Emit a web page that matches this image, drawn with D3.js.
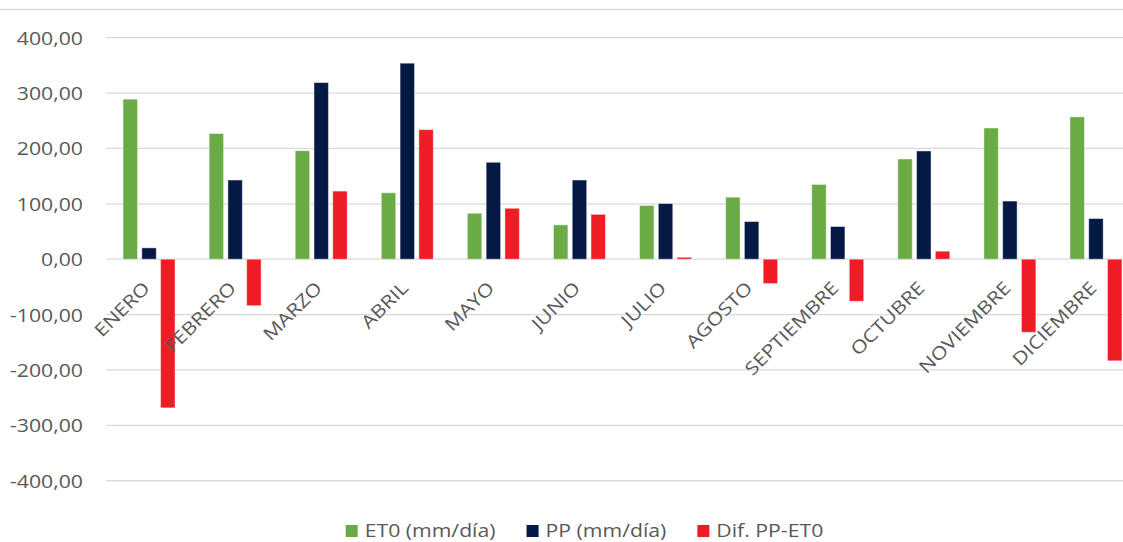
<!DOCTYPE html>
<html>
<head>
<meta charset="utf-8">
<script src="https://cdn.jsdelivr.net/npm/d3@7/dist/d3.min.js"></script>
<style>
  html, body { margin: 0; padding: 0; background: #fff; }
  svg { display: block; }
  text { font-family: "Open Sans", "Noto Sans", sans-serif; fill: #595959; }
</style>
</head>
<body>
<svg id="chart" width="1123" height="542"></svg>
<script>
// Monthly water balance: reference evapotranspiration vs. precipitation
const months = ["ENERO", "FEBRERO", "MARZO", "ABRIL", "MAYO", "JUNIO",
                "JULIO", "AGOSTO", "SEPTIEMBRE", "OCTUBRE", "NOVIEMBRE", "DICIEMBRE"];
const et0  = [289, 227, 196, 120, 83, 62, 97, 112, 135, 181, 237, 257];
const pp   = [20.5, 143, 319, 354, 175, 143, 100.5, 68, 59, 195.5, 105, 73.5];
const diff = [-268.5, -84, 123, 234, 92, 81, 3.5, -44, -76, 14.5, -132, -183.5];
const seriesNames = ["ET0 (mm/día)", "PP (mm/día)", "Dif. PP-ET0"];
const seriesColors = ["#6aab45", "#041a44", "#ee1c25"];
const yTicks = [-400, -300, -200, -100, 0, 100, 200, 300, 400];

const W = 1123, H = 542;
const FS = 18, SX = 1.18;   // font size and horizontal stretch of all labels
const svg = d3.select("#chart");

const plot = { left: 106, right: 1139, top: 37.7, bottom: 480.7 };

const x = d3.scaleBand().domain(months).range([plot.left, plot.right]).padding(0);
const groupW = 52;
const xs = d3.scaleBand().domain(seriesNames)
  .range([(x.bandwidth() - groupW) / 2, (x.bandwidth() + groupW) / 2])
  .paddingInner(0.23).paddingOuter(0);
const y = d3.scaleLinear().domain([-400, 400]).range([plot.bottom, plot.top]);

const fmt = v => d3.format(".2f")(v).replace(".", ",").replace("−", "-");

// outer frame line
svg.append("line")
  .attr("x1", 0).attr("x2", W).attr("y1", 9.5).attr("y2", 9.5)
  .attr("stroke", "#d9d9d9").attr("stroke-width", 1.5);

// horizontal gridlines
svg.append("g").selectAll("line").data(yTicks).join("line")
  .attr("x1", plot.left).attr("x2", W)
  .attr("y1", d => y(d)).attr("y2", d => y(d))
  .attr("stroke", "#d9d9d9").attr("stroke-width", 1.3);

// y-axis labels
const yAxis = d3.axisLeft(y).tickValues(yTicks).tickFormat(fmt).tickSize(0).tickPadding(0);
const gy = svg.append("g").attr("transform", "translate(83,0)").call(yAxis);
gy.select(".domain").remove();
gy.selectAll("text")
  .attr("font-family", "'Open Sans', sans-serif")
  .attr("font-size", FS)
  .attr("fill", "#595959")
  .attr("dy", "0.36em")
  .attr("transform", `scale(${SX},1)`);

// bars
const series = [et0, pp, diff];
const bars = svg.append("g");
series.forEach((vals, si) => {
  bars.append("g").selectAll("rect").data(vals).join("rect")
    .attr("x", (d, i) => x(months[i]) + xs(seriesNames[si]))
    .attr("width", xs.bandwidth())
    .attr("y", d => y(Math.max(0, d)))
    .attr("height", d => Math.abs(y(d) - y(0)))
    .attr("fill", seriesColors[si])
    .attr("stroke", "rgba(255,255,255,0.45)")
    .attr("stroke-width", 1);
});

// category labels, rotated
svg.append("g").selectAll("text").data(months).join("text")
  .attr("transform", d => `translate(${x(d) + x.bandwidth() / 2 + 2},${y(0) + 30}) rotate(-45) scale(${SX},1)`)
  .attr("text-anchor", "end")
  .attr("font-size", FS)
  .text(d => d);

// legend
const legend = svg.append("g");
const items = legend.selectAll("g").data(seriesNames).join("g");
items.append("rect")
  .attr("width", 12).attr("height", 12)
  .attr("y", 525)
  .attr("fill", (d, i) => seriesColors[i]);
items.append("text")
  .attr("y", 537)
  .attr("font-size", FS)
  .attr("transform", `scale(${SX},1)`)
  .text(d => d);
// lay out legend items horizontally, centred
const textOff = 19, gap = 31, legendCenter = 584.5;
const widths = [];
items.each(function () {
  widths.push(textOff + d3.select(this).select("text").node().getComputedTextLength() * SX);
});
const total = d3.sum(widths) + gap * (widths.length - 1);
let cx = legendCenter - total / 2;
items.each(function (d, i) {
  const g = d3.select(this);
  g.select("rect").attr("x", cx);
  g.select("text").attr("x", (cx + textOff) / SX);
  cx += widths[i] + gap;
});
</script>
</body>
</html>
